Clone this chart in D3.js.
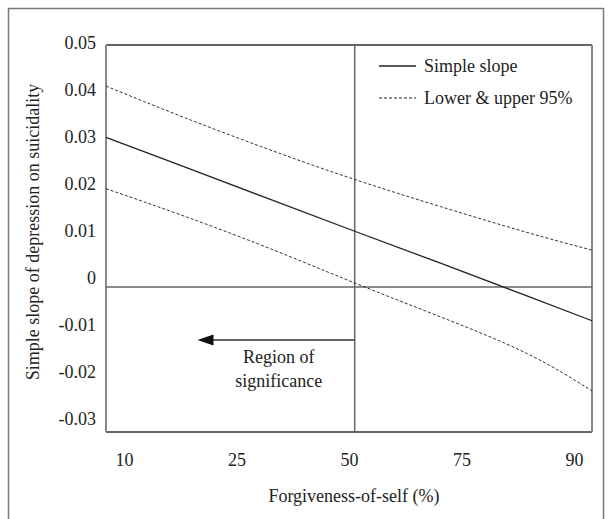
<!DOCTYPE html>
<html>
<head>
<meta charset="utf-8">
<script src="https://cdn.jsdelivr.net/npm/d3@7"></script>
<style>
  body { margin: 0; background: #fff; }
  svg { display: block; }
  svg text { font-family: "Liberation Serif", Tinos, "Nimbus Roman", "Nimbus Roman No9 L", FreeSerif, "Times New Roman", Times, Georgia, "DejaVu Serif", serif; }
</style>
</head>
<body>
<div id="chart"></div>
<script>
// tick labels
var xTicks = ["10", "25", "50", "75", "90"];
var yTicks = [0.05, 0.04, 0.03, 0.02, 0.01, 0, -0.01, -0.02, -0.03];

// forgiveness-of-self position and the three series
var forgiveness = [6.5, 20, 35, 50, 65, 80, 91.5];
var simpleSlope = [0.0309, 0.0249, 0.0182, 0.0115, 0.0049, -0.0018, -0.0070];
var upper95 = [0.0415, 0.0351, 0.0284, 0.0222, 0.0166, 0.0113, 0.0076];
var lower95 = [0.0203, 0.0147, 0.0080, 0.0008, -0.0062, -0.0137, -0.0215];

var cutoff = 50;          // region of significance boundary
var legendNames = ["Simple slope", "Lower & upper 95%"];

var width = 611, height = 519;
var frame = {left: 106, right: 592, top: 45, bottom: 432};

var svg = d3.select("#chart").append("svg")
    .attr("width", width)
    .attr("height", height);

// outer figure border
svg.append("rect")
    .attr("x", 8.5).attr("y", 8.5)
    .attr("width", 595).attr("height", 540)
    .attr("fill", "none")
    .attr("stroke", "#7a7a7a")
    .attr("stroke-width", 1.5);

var x = d3.scaleLinear()
    .domain([6.5, 91.5])
    .range([frame.left, frame.right]);

var y = d3.scaleLinear()
    .domain([-0.03, 0.05])
    .range([frame.bottom, frame.top]);

// the printed tick labels sit a little off the data scale
var yLabel = d3.scaleLinear()
    .domain([-0.03, 0.05])
    .range([419, 43]);

var xTick = d3.scalePoint()
    .domain(xTicks)
    .range([frame.left, frame.right])
    .padding(0.16);

// frame
svg.append("line")
    .attr("x1", frame.left).attr("x2", frame.right)
    .attr("y1", frame.top).attr("y2", frame.top)
    .attr("stroke", "#333").attr("stroke-width", 1.5);
svg.append("line")
    .attr("x1", frame.left).attr("x2", frame.right)
    .attr("y1", frame.bottom).attr("y2", frame.bottom)
    .attr("stroke", "#333").attr("stroke-width", 1.5);
svg.append("line")
    .attr("x1", frame.left).attr("x2", frame.left)
    .attr("y1", frame.top).attr("y2", frame.bottom)
    .attr("stroke", "#888").attr("stroke-width", 2);
svg.append("line")
    .attr("x1", frame.right).attr("x2", frame.right)
    .attr("y1", frame.top).attr("y2", frame.bottom)
    .attr("stroke", "#888").attr("stroke-width", 2);

// zero line and cutoff line
svg.append("line")
    .attr("x1", frame.left).attr("x2", frame.right)
    .attr("y1", y(0)).attr("y2", y(0))
    .attr("stroke", "#666").attr("stroke-width", 1.5);
svg.append("line")
    .attr("x1", x(cutoff)).attr("x2", x(cutoff))
    .attr("y1", frame.top).attr("y2", frame.bottom)
    .attr("stroke", "#666").attr("stroke-width", 1.5);

// y axis labels
var yAxis = svg.append("g")
    .attr("transform", "translate(96,0)")
    .call(d3.axisLeft(yLabel)
        .tickValues(yTicks)
        .tickSize(0)
        .tickPadding(0)
        .tickFormat(function(d) { return d === 0 ? "0" : d.toFixed(2); }));
yAxis.select(".domain").remove();
yAxis.attr("font-family", null).attr("font-size", 18);
yAxis.selectAll("text").attr("fill", "#222");

// x axis labels
var xAxis = svg.append("g")
    .attr("transform", "translate(0,460)")
    .call(d3.axisBottom(xTick).tickSize(0).tickPadding(0));
xAxis.select(".domain").remove();
xAxis.attr("font-family", null).attr("font-size", 18);
xAxis.selectAll("text").attr("dy", "0.35em").attr("fill", "#222");

// axis titles
svg.append("text")
    .attr("x", 354).attr("y", 496)
    .attr("dy", "0.35em")
    .attr("text-anchor", "middle")
    .attr("font-size", 18)
    .attr("fill", "#222")
    .text("Forgiveness-of-self (%)");

svg.append("text")
    .attr("transform", "translate(33,232) rotate(-90)")
    .attr("dy", "0.35em")
    .attr("text-anchor", "middle")
    .attr("font-size", 18)
    .attr("fill", "#222")
    .text("Simple slope of depression on suicidality");

// series
function series(vals) {
    return forgiveness.map(function(f, i) { return {x: f, y: vals[i]}; });
}

var straight = d3.line()
    .x(function(d) { return x(d.x); })
    .y(function(d) { return y(d.y); });

var smooth = d3.line()
    .x(function(d) { return x(d.x); })
    .y(function(d) { return y(d.y); })
    .curve(d3.curveNatural);

svg.append("path")
    .datum(series(simpleSlope))
    .attr("d", straight)
    .attr("fill", "none")
    .attr("stroke", "#222")
    .attr("stroke-width", 1.3);

[upper95, lower95].forEach(function(vals) {
    svg.append("path")
        .datum(series(vals))
        .attr("d", smooth)
        .attr("fill", "none")
        .attr("stroke", "#333")
        .attr("stroke-width", 1)
        .attr("stroke-dasharray", "3,2");
});

// region of significance arrow
var arrowY = y(-0.011);
var tipX = x(22.5);
svg.append("line")
    .attr("x1", x(cutoff)).attr("x2", tipX + 14)
    .attr("y1", arrowY).attr("y2", arrowY)
    .attr("stroke", "#333").attr("stroke-width", 1.5);
svg.append("path")
    .attr("d", "M" + tipX + "," + arrowY +
        "L" + (tipX + 16) + "," + (arrowY - 5.5) +
        "L" + (tipX + 16) + "," + (arrowY + 5.5) + "Z")
    .attr("fill", "#111");

svg.append("text")
    .attr("x", x(36.7)).attr("y", y(-0.0145))
    .attr("dy", "0.35em")
    .attr("text-anchor", "middle")
    .attr("font-size", 18)
    .attr("fill", "#222")
    .text("Region of");
svg.append("text")
    .attr("x", x(36.7)).attr("y", y(-0.0194))
    .attr("dy", "0.35em")
    .attr("text-anchor", "middle")
    .attr("font-size", 18)
    .attr("fill", "#222")
    .text("significance");

// legend
var legend = svg.append("g").attr("transform", "translate(379,66)");
legendNames.forEach(function(name, i) {
    var row = legend.append("g").attr("transform", "translate(0," + (i * 32) + ")");
    row.append("line")
        .attr("x1", 0).attr("x2", 37)
        .attr("y1", 0).attr("y2", 0)
        .attr("stroke", "#222")
        .attr("stroke-width", i === 0 ? 1.3 : 1)
        .attr("stroke-dasharray", i === 0 ? null : "3,2");
    row.append("text")
        .attr("x", 45)
        .attr("dy", "0.35em")
        .attr("font-size", 18)
        .attr("fill", "#222")
        .text(name);
});
</script>
</body>
</html>
